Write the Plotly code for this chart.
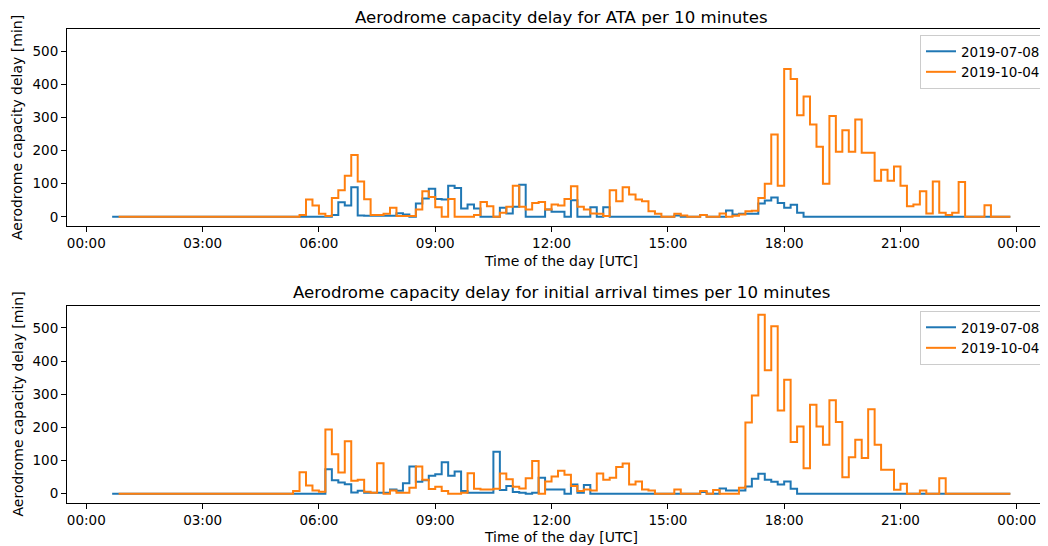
import pandas as pd
import plotly.graph_objects as go

# 10-minute bins of the day (values per bin, None = no data)
bins = pd.date_range("2000-01-01 00:00", periods=144, freq="10min")
series_names = ["2019-07-08", "2019-10-04"]

ata_0708 = [
    None, None, None, None, 0, 0,
    0, 0, 0, 0, 0, 0,
    0, 0, 0, 0, 0, 0,
    0, 0, 0, 0, 0, 0,
    0, 0, 0, 0, 0, 0,
    0, 0, 0, 0, 0, 0,
    0, 0, 5, 44, 34, 89,
    4, 3, 3, 3, 3, 3,
    11, 7, 0, 40, 55, 85,
    54, 52, 94, 87, 25, 37,
    25, 0, 0, 0, 27, 10,
    30, 97, 0, 0, 0, 22,
    15, 15, 0, 50, 0, 0,
    29, 0, 29, 0, 0, 0,
    0, 0, 0, 0, 0, 0,
    0, 4, 0, 0, 0, 5,
    0, 0, 0, 19, 7, 9,
    9, 9, 40, 49, 58, 42,
    27, 36, 12, 0, 0, 0,
    0, 0, 0, 0, 0, 0,
    0, 0, 0, 0, 0, 0,
    0, 0, 0, 0, 0, 0,
    0, 0, 0, 0, 0, 0,
    0, 0, 0, 0, 0, 0,
]

ata_1004 = [
    None, None, None, None, None, 0,
    0, 0, 0, 0, 0, 0,
    0, 0, 0, 0, 0, 0,
    0, 0, 0, 0, 0, 0,
    0, 0, 0, 0, 0, 0,
    0, 0, 0, 5, 52, 34,
    9, 2, 57, 80, 124, 187,
    107, 53, 5, 5, 9, 27,
    2, 2, 2, 22, 77, 60,
    29, 0, 54, 0, 0, 0,
    5, 45, 32, 0, 12, 30,
    94, 30, 22, 42, 45, 22,
    37, 34, 54, 92, 30, 22,
    10, 9, 2, 80, 47, 89,
    67, 52, 47, 17, 9, 0,
    0, 9, 4, 0, 0, 5,
    0, 0, 10, 0, 3, 7,
    17, 18, 57, 100, 249, 94,
    447, 417, 307, 364, 279, 212,
    100, 305, 197, 262, 197, 294,
    194, 194, 109, 142, 109, 152,
    94, 32, 37, 77, 10, 107,
    12, 5, 12, 105, 0, 0,
    0, 35, 0, 0, 0, 0,
]

init_0708 = [
    None, None, None, None, 0, 0,
    0, 0, 0, 0, 0, 0,
    0, 0, 0, 0, 0, 0,
    0, 0, 0, 0, 0, 0,
    0, 0, 0, 0, 0, 0,
    0, 0, 0, 0, 0, 0,
    0, 74, 41, 34, 29, 4,
    9, 3, 3, 3, 3, 13,
    9, 32, 82, 36, 41, 54,
    59, 95, 54, 67, 8, 3,
    3, 3, 3, 127, 11, 23,
    5, 3, 0, 3, 48, 13,
    13, 13, 0, 28, 3, 26,
    0, 0, 0, 0, 0, 0,
    0, 0, 0, 0, 0, 0,
    0, 0, 0, 0, 0, 5,
    0, 0, 16, 10, 10, 10,
    22, 45, 60, 42, 36, 28,
    37, 15, 0, 0, 0, 0,
    0, 0, 0, 0, 0, 0,
    0, 0, 0, 0, 0, 0,
    0, 0, 0, 0, 0, 0,
    0, 0, 0, 0, 0, 0,
    0, 0, 0, 0, 0, 0,
]

init_1004 = [
    None, None, None, None, None, 0,
    0, 0, 0, 0, 0, 0,
    0, 0, 0, 0, 0, 0,
    0, 0, 0, 0, 0, 0,
    0, 0, 0, 0, 0, 0,
    0, 0, 8, 65, 25, 10,
    6, 194, 119, 64, 158, 39,
    42, 6, 3, 92, 0, 10,
    3, 3, 18, 82, 42, 14,
    21, 8, 0, 0, 3, 62,
    15, 13, 13, 15, 61, 44,
    21, 16, 47, 99, 0, 37,
    52, 69, 57, 23, 8, 13,
    10, 61, 42, 48, 81, 91,
    28, 37, 13, 10, 0, 0,
    0, 13, 0, 0, 0, 8,
    0, 11, 0, 0, 0, 18,
    215, 296, 540, 372, 505, 251,
    344, 156, 203, 77, 268, 203,
    148, 282, 216, 50, 110, 163,
    108, 255, 148, 72, 72, 12,
    30, 0, 0, 10, 0, 0,
    47, 0, 0, 0, 0, 0,
    0, 0, 0, 0, 0, 0,
]

titles = ["Aerodrome capacity delay for ATA per 10 minutes",
          "Aerodrome capacity delay for initial arrival times per 10 minutes"]
xlabel = "Time of the day [UTC]"
ylabel = "Aerodrome capacity delay [min]"
yticks = [0, 100, 200, 300, 400, 500]

colors = ["#1f77b4", "#ff7f0e"]

# The page body has an 8px margin, so the figure is drawn from (8, 8)
OFF = 8
W, H = 1048 - OFF, 546 - OFF
ML, MR, MT, MB = 67 - OFF, 0, 29 - OFF, 43
PW, PH = W - ML - MR, H - MT - MB


def px_x(x):  # x in screen pixels
    return (x - OFF - ML) / PW


def px_y(y):  # y in screen pixels
    return (H - MB - (y - OFF)) / PH


FONT = "DejaVu Sans"
fig = go.Figure()

for vals, name, col in zip([ata_0708, ata_1004], series_names, colors):
    fig.add_trace(go.Scatter(x=bins, y=vals, name=name, mode="lines",
                             line=dict(color=col, width=2, shape="hv"),
                             xaxis="x", yaxis="y", legend="legend"))
for vals, name, col in zip([init_0708, init_1004], series_names, colors):
    fig.add_trace(go.Scatter(x=bins, y=vals, name=name, mode="lines",
                             line=dict(color=col, width=2, shape="hv"),
                             xaxis="x2", yaxis="y2", legend="legend2"))

xr = ["1999-12-31 23:30:07", "2000-01-02 00:48:18"]
common_x = dict(type="date", range=xr, tickformat="%H:%M",
                tick0="2000-01-01 00:00", dtick=3 * 3600 * 1000,
                showline=True, linecolor="black", linewidth=1, mirror=True,
                ticks="outside", ticklen=5, tickwidth=1, tickcolor="black",
                showgrid=False, zeroline=False,
                tickfont=dict(family=FONT, size=13.5, color="black"))
common_y = dict(range=[-27, 567], tickvals=yticks,
                showline=True, linecolor="black", linewidth=1, mirror=False,
                ticks="outside", ticklen=5, tickwidth=1, tickcolor="black",
                showgrid=False, zeroline=False,
                tickfont=dict(family=FONT, size=13.5, color="black"))

top_lo, top_hi = px_y(225.7), px_y(29.3)
bot_lo, bot_hi = px_y(502.7), px_y(305.7)

legend_style = dict(font=dict(family=FONT, size=13.5, color="black"),
                    bordercolor="#cccccc", borderwidth=1,
                    bgcolor="rgba(255,255,255,0.8)",
                    xanchor="right", yanchor="top", x=px_x(1046),
                    itemwidth=30, tracegroupgap=0)

fig.update_layout(
    width=W, height=H,
    margin=dict(l=ML, r=MR, t=MT, b=MB),
    paper_bgcolor="white", plot_bgcolor="white",
    font=dict(family=FONT, size=13.5, color="black"),
    xaxis=dict(domain=[0, 1], anchor="y", **common_x),
    yaxis=dict(domain=[top_lo, top_hi], anchor="x", **common_y),
    xaxis2=dict(domain=[0, 1], anchor="y2", **common_x),
    yaxis2=dict(domain=[bot_lo, bot_hi], anchor="x2", **common_y),
    legend=dict(y=px_y(35), **legend_style),
    legend2=dict(y=px_y(311), **legend_style),
    showlegend=True,
)

ann = []
for title, ty, lx_y, ycen in [(titles[0], 17.5, 261, 127.5), (titles[1], 292, 537, 404)]:
    ann.append(dict(text=title, x=px_x(561), y=px_y(ty), xref="paper", yref="paper",
                    showarrow=False, xanchor="center", yanchor="middle", borderpad=0,
                    font=dict(family=FONT, size=16.6, color="black")))
    ann.append(dict(text=xlabel, x=px_x(561), y=px_y(lx_y), xref="paper", yref="paper",
                    showarrow=False, xanchor="center", yanchor="middle",
                    font=dict(family=FONT, size=14, color="black")))
    ann.append(dict(text=ylabel, x=px_x(17.5), y=px_y(ycen), xref="paper", yref="paper",
                    showarrow=False, xanchor="center", yanchor="middle", textangle=-90,
                    font=dict(family=FONT, size=14, color="black")))
fig.update_layout(annotations=ann)

fig.write_html("out.html")
